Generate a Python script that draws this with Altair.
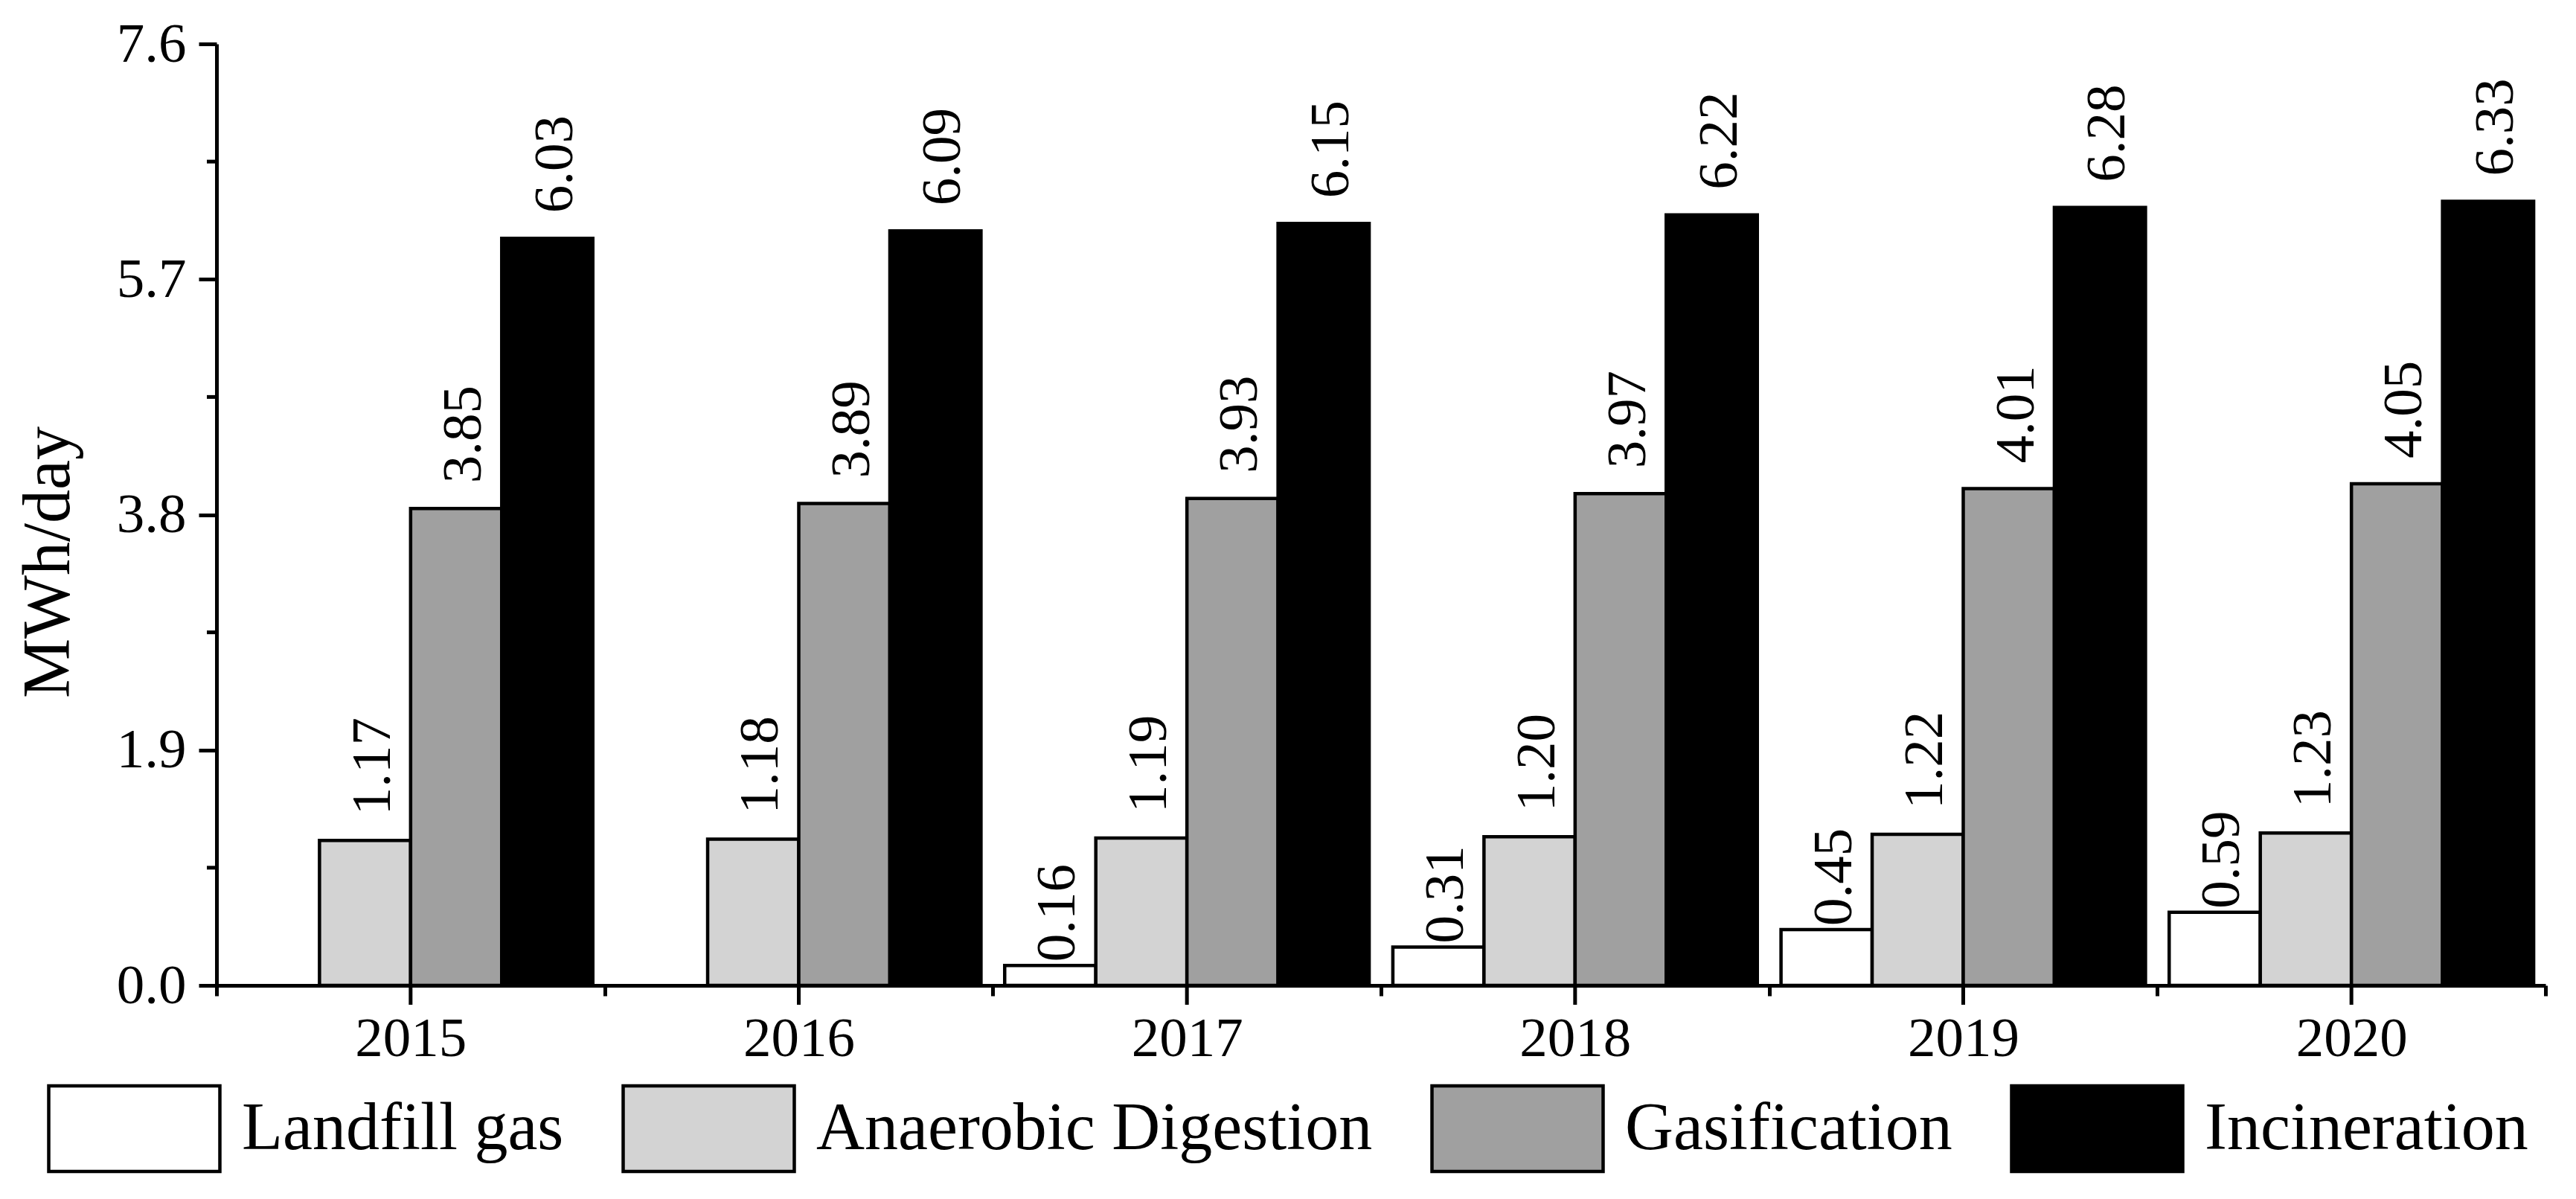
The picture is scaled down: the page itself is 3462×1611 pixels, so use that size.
import altair as alt
import pandas as pd

years = ["2015", "2016", "2017", "2018", "2019", "2020"]
methods = ["Landfill gas", "Anaerobic Digestion", "Gasification", "Incineration"]
landfill = [0, 0, 0.16, 0.31, 0.45, 0.59]
anaerobic = [1.17, 1.18, 1.19, 1.20, 1.22, 1.23]
gasification = [3.85, 3.89, 3.93, 3.97, 4.01, 4.05]
incineration = [6.03, 6.09, 6.15, 6.22, 6.28, 6.33]
colors = ["#ffffff", "#d3d3d3", "#a0a0a0", "#000000"]
y_ticks = [0, 1.9, 3.8, 5.7, 7.6]
y_minor = [0.95, 2.85, 4.75, 6.65]

FONT = "Liberation Serif"
W, H = 3130, 1265

rows = []
for m, vals in zip(methods, [landfill, anaerobic, gasification, incineration]):
    for yr, v in zip(years, vals):
        rows.append({"year": yr, "method": m, "value": v})
df = pd.DataFrame(rows)

x_enc = alt.X(
    "year:N", sort=years, title=None,
    scale=alt.Scale(domain=years, paddingInner=0, paddingOuter=0),
    axis=alt.Axis(labelAngle=0, tickBand="extent", tickSize=14, tickWidth=5,
                  domainWidth=5, labelFontSize=75, labelPadding=21, grid=False,
                  labelFont=FONT, labelColor="black", tickColor="black",
                  domainColor="black"),
)
xo_enc = alt.XOffset(
    "method:N", sort=methods,
    scale=alt.Scale(domain=methods, paddingInner=0, paddingOuter=0.13),
)
y_scale = alt.Scale(domain=[0, 7.6], nice=False, zero=True)
y_axis = alt.Axis(
    values=y_ticks, format=".1f", tickSize=24, tickWidth=5, domainWidth=5,
    labelFontSize=75, labelPadding=17, grid=False, labelFont=FONT,
    labelColor="black", tickColor="black", domainColor="black",
    title="MWh/day", titleFontSize=90, titleFontWeight="normal", titleFont=FONT,
    titleColor="black", titleAngle=270, titleX=-199, titleY=696,
    titleAlign="center", titleBaseline="alphabetic",
)
y_enc = alt.Y("value:Q", scale=y_scale, axis=y_axis, title="MWh/day")

legend = alt.Legend(
    title=None, orient="none", legendX=-228, legendY=1340, direction="horizontal",
    columns=4, symbolType="M-1,-0.5H1V0.5H-1Z", symbolSize=52900,
    symbolStrokeColor="black", symbolStrokeWidth=4.5, symbolOpacity=1,
    labelFontSize=90, labelFont=FONT, labelColor="black", labelOffset=27,
    columnPadding=70, labelLimit=3000, padding=0,
)

base = alt.Chart(df).transform_filter("datum.value > 0")

bars = base.mark_bar(stroke="black", strokeWidth=4.5, opacity=1).encode(
    x=x_enc, xOffset=xo_enc, y=y_enc,
    color=alt.Color("method:N", sort=methods,
                    scale=alt.Scale(domain=methods, range=colors), legend=legend),
)

lbl_other = base.transform_filter("datum.method != 'Landfill gas'").mark_text(
    angle=270, align="left", baseline="middle", dx=34, dy=10,
    font=FONT, fontSize=75, color="black",
).encode(x=x_enc, xOffset=xo_enc, y=y_enc,
         text=alt.Text("value:Q", format=".2f"))

lbl_land = base.transform_filter("datum.method == 'Landfill gas'").mark_text(
    angle=270, align="left", baseline="middle", dx=5, dy=10,
    font=FONT, fontSize=75, color="black",
).encode(x=x_enc, xOffset=xo_enc, y=y_enc,
         text=alt.Text("value:Q", format=".2f"))

center_ticks = alt.Chart(pd.DataFrame({"year": years})).mark_rule(
    color="black", strokeWidth=5
).encode(x=x_enc, y=alt.value(H), y2=alt.value(H + 26))

minor_ticks = alt.Chart(pd.DataFrame({"value": y_minor})).mark_rule(
    color="black", strokeWidth=5
).encode(y=y_enc, x=alt.value(-13), x2=alt.value(0))

chart = alt.layer(bars, lbl_other, lbl_land, center_ticks, minor_ticks).properties(
    width=W, height=H,
    autosize=alt.AutoSizeParams(type="none"),
    padding={"left": 283, "top": 51, "right": 30, "bottom": 270},
    background="white",
).configure_view(strokeWidth=0)

chart.save("out.html", embed_options={"renderer": "svg", "actions": False})
